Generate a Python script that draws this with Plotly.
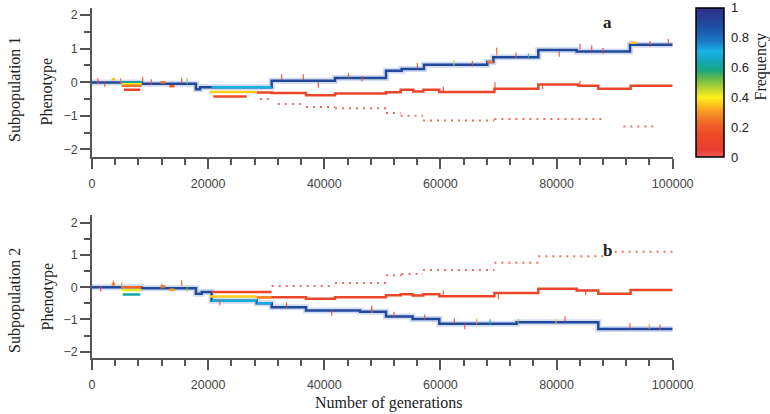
import plotly.graph_objects as go

# ---------------- data ----------------
x_ticks = [0, 20000, 40000, 60000, 80000, 100000]
x_tick_labels = ["0", "20000", "40000", "60000", "80000", "100000"]
y_ticks = [-2, -1, 0, 1, 2]
freq_ticks = [0, 0.2, 0.4, 0.6, 0.8, 1]
freq_tick_labels = ["0", "0.2", "0.4", "0.6", "0.8", "1"]

# Subpopulation 1 -- dominant lineage (step start generation, phenotype)
sub1_main_gen = [0, 8560, 17900, 18600, 30940, 41850, 50630, 53330, 57170, 68070, 69110, 76860, 83460, 92650, 100000]
sub1_main_pheno = [-0.01, -0.05, -0.21, -0.15, 0.04, 0.12, 0.34, 0.39, 0.52, 0.60, 0.74, 0.96, 0.91, 1.11, 1.11]
sub1_main_freq = 0.9
# second (minority) lineage
sub1_second_gen = [28360, 30940, 36850, 41850, 50630, 53150, 55330, 57060, 59810, 69290, 76860, 83750, 87190, 92750, 100000]
sub1_second_pheno = [-0.31, -0.32, -0.39, -0.34, -0.30, -0.23, -0.28, -0.23, -0.29, -0.20, -0.07, -0.11, -0.20, -0.11, -0.11]
sub1_second_freq = 0.12
# rare lineage
sub1_rare_start = [28900, 32000, 36850, 41850, 50630, 53150, 57000, 69290, 91500]
sub1_rare_end = [31200, 36850, 41850, 50630, 53150, 57000, 69290, 88000, 97200]
sub1_rare_pheno = [-0.50, -0.65, -0.74, -0.78, -0.92, -1.00, -1.14, -1.10, -1.32]
sub1_rare_freq = 0.03
# transient branches
sub1_branch_start = [5100, 5100, 5100, 5500, 20600, 20300, 20900, 68070, 11800, 13300, 3400, 92650]
sub1_branch_end = [8560, 8560, 8560, 8300, 30940, 28360, 26640, 69110, 12600, 14200, 4000, 93800]
sub1_branch_pheno = [-0.01, -0.06, -0.11, -0.23, -0.15, -0.29, -0.43, 0.60, 0.00, -0.12, 0.09, 1.17]
sub1_branch_freq = [0.62, 0.40, 0.25, 0.10, 0.70, 0.36, 0.14, 0.25, 0.25, 0.20, 0.35, 0.35]
# short-lived mutants
sub1_mut_gen = [1000, 2200, 4940, 8730, 10200, 15450, 16410, 32660, 36390, 38970, 44150, 46500, 56020, 62340,
                65500, 69690, 69690, 75150, 73000, 80470, 84030, 86050, 88000, 96090, 99250, 69400, 84030, 77600, 60500]
sub1_mut_pheno = [0.03, -0.05, 0.04, 0.07, 0.00, 0.05, 0.03, 0.15, 0.15, -0.08, 0.19, 0.10, 0.49, 0.57,
                  0.55, 0.94, 0.87, 0.77, 0.80, 0.84, 1.06, 1.01, 0.93, 1.14, 1.21, -0.08, -0.04, -0.12, -0.22]
sub1_mut_freq = [0.10, 0.10, 0.25, 0.10, 0.10, 0.10, 0.50, 0.10, 0.10, 0.08, 0.10, 0.08, 0.10, 0.45,
                 0.10, 0.10, 0.30, 0.55, 0.10, 0.10, 0.10, 0.10, 0.10, 0.10, 0.10, 0.10, 0.10, 0.08, 0.08]

# Subpopulation 2
sub2_main_gen = [0, 8500, 17900, 18900, 20600, 28360, 30940, 36850, 46150, 50630, 55220, 59810, 73130, 87190, 100000]
sub2_main_pheno = [0.00, -0.03, -0.20, -0.15, -0.42, -0.50, -0.62, -0.72, -0.76, -0.91, -0.99, -1.13, -1.09, -1.30, -1.30]
sub2_main_freq = 0.9
sub2_second_gen = [28360, 30940, 36850, 41850, 50630, 53150, 55220, 57060, 59810, 69290, 76860, 83460, 87190, 92750, 100000]
sub2_second_pheno = [-0.31, -0.31, -0.36, -0.31, -0.25, -0.22, -0.26, -0.22, -0.28, -0.18, -0.05, -0.10, -0.20, -0.09, -0.09]
sub2_second_freq = 0.12
sub2_rare_start = [30940, 41850, 50630, 53300, 57000, 69290, 76860, 90000]
sub2_rare_end = [41850, 50630, 53300, 57000, 69290, 76860, 88000, 100000]
sub2_rare_pheno = [0.04, 0.13, 0.37, 0.41, 0.53, 0.76, 0.96, 1.10]
sub2_rare_freq = 0.03
sub2_branch_start = [5100, 5100, 5300, 20600, 20600, 20300, 28360, 28360, 11800, 13300, 3400]
sub2_branch_end = [8500, 8500, 8300, 28360, 30940, 28360, 30940, 30940, 12600, 14200, 4000]
sub2_branch_pheno = [0.00, -0.09, -0.23, -0.42, -0.15, -0.29, -0.31, -0.50, 0.02, -0.08, 0.10]
sub2_branch_freq = [0.22, 0.42, 0.62, 0.68, 0.13, 0.36, 0.28, 0.72, 0.25, 0.30, 0.30]
sub2_mut_gen = [3670, 5100, 1500, 12000, 15450, 16400, 22000, 33500, 41280, 48170, 48170, 52000, 57300, 62400,
                64200, 66240, 68540, 73420, 79900, 81450, 92650, 97810, 96000, 60500, 70000, 85000]
sub2_mut_pheno = [0.12, 0.07, -0.05, 0.02, 0.13, -0.05, -0.48, -0.55, -0.80, -0.72, -0.66, -0.85, -0.93, -1.05,
                  -1.22, -1.06, -1.08, -1.07, -1.07, -0.99, -1.20, -1.24, -1.22, -0.18, -0.29, -0.16]
sub2_mut_freq = [0.20, 0.30, 0.10, 0.25, 0.10, 0.50, 0.10, 0.10, 0.10, 0.30, 0.10, 0.10, 0.10, 0.10,
                 0.10, 0.30, 0.65, 0.50, 0.35, 0.10, 0.10, 0.10, 0.30, 0.10, 0.10, 0.10]

# ---------------- colour scale ----------------
FREQ_SCALE = [
    (0.00, (236, 92, 82)),
    (0.05, (232, 62, 50)),
    (0.14, (237, 72, 40)),
    (0.22, (241, 100, 40)),
    (0.30, (246, 148, 35)),
    (0.36, (252, 205, 28)),
    (0.40, (255, 240, 28)),
    (0.46, (185, 212, 50)),
    (0.52, (110, 188, 70)),
    (0.58, (25, 166, 130)),
    (0.65, (18, 168, 190)),
    (0.71, (25, 180, 232)),
    (0.78, (28, 118, 195)),
    (0.86, (28, 84, 165)),
    (0.93, (36, 64, 150)),
    (1.00, (44, 48, 132)),
]
plotly_scale = [[p, "rgb(%d,%d,%d)" % c] for p, c in FREQ_SCALE]


def freq_color(f, alpha=1.0):
    f = max(0.0, min(1.0, f))
    for (p0, c0), (p1, c1) in zip(FREQ_SCALE[:-1], FREQ_SCALE[1:]):
        if p0 <= f <= p1:
            t = 0 if p1 == p0 else (f - p0) / (p1 - p0)
            c = [round(a + (b - a) * t) for a, b in zip(c0, c1)]
            return "rgba(%d,%d,%d,%.2f)" % (c[0], c[1], c[2], alpha)
    return "rgba(44,48,132,%.2f)" % alpha


fig = go.Figure()


def add_panel(xa, ya, main_gen, main_pheno, main_freq, sec_gen, sec_pheno, sec_freq,
              rare_s, rare_e, rare_p, rare_f, br_s, br_e, br_p, br_f, mut_g, mut_p, mut_f):
    # rare lineage (dotted)
    rx, ry = [], []
    for s, e, p in zip(rare_s, rare_e, rare_p):
        rx += [s, e, None]
        ry += [p, p, None]
    fig.add_trace(go.Scatter(x=rx, y=ry, mode="lines", xaxis=xa, yaxis=ya, hoverinfo="skip",
                             line=dict(color=freq_color(rare_f, 0.8), width=2, dash="2px,5px")))
    # minority lineage
    fig.add_trace(go.Scatter(x=sec_gen, y=sec_pheno, mode="lines", xaxis=xa, yaxis=ya, hoverinfo="skip",
                             line=dict(color=freq_color(sec_freq), width=2.5, shape="hv")))
    # dominant lineage: halo + core
    fig.add_trace(go.Scatter(x=main_gen, y=main_pheno, mode="lines", xaxis=xa, yaxis=ya, hoverinfo="skip",
                             line=dict(color="rgba(120,150,215,0.35)", width=6, shape="hv")))
    fig.add_trace(go.Scatter(x=main_gen, y=main_pheno, mode="lines", xaxis=xa, yaxis=ya, hoverinfo="skip",
                             line=dict(color=freq_color(main_freq), width=2.5, shape="hv")))
    # transient branches
    for s, e, p, f in zip(br_s, br_e, br_p, br_f):
        fig.add_trace(go.Scatter(x=[s, e], y=[p, p], mode="lines", xaxis=xa, yaxis=ya, hoverinfo="skip",
                                 line=dict(color=freq_color(f), width=2.5)))
    # short-lived mutants
    fig.add_trace(go.Scatter(x=mut_g, y=mut_p, mode="markers", xaxis=xa, yaxis=ya, hoverinfo="skip",
                             marker=dict(symbol="line-ns", size=4,
                                         line=dict(width=1.2, color=[freq_color(f, 0.85) for f in mut_f]))))


add_panel("x", "y", sub1_main_gen, sub1_main_pheno, sub1_main_freq, sub1_second_gen, sub1_second_pheno,
          sub1_second_freq, sub1_rare_start, sub1_rare_end, sub1_rare_pheno, sub1_rare_freq,
          sub1_branch_start, sub1_branch_end, sub1_branch_pheno, sub1_branch_freq,
          sub1_mut_gen, sub1_mut_pheno, sub1_mut_freq)
add_panel("x2", "y2", sub2_main_gen, sub2_main_pheno, sub2_main_freq, sub2_second_gen, sub2_second_pheno,
          sub2_second_freq, sub2_rare_start, sub2_rare_end, sub2_rare_pheno, sub2_rare_freq,
          sub2_branch_start, sub2_branch_end, sub2_branch_pheno, sub2_branch_freq,
          sub2_mut_gen, sub2_mut_pheno, sub2_mut_freq)

# colour bar geometry (pixels) and carrier trace (point lies outside the axis range)
CB_TOP, CB_BOTTOM, CB_LEFT = 8.0, 157.0, 696.0
fig.add_trace(go.Scatter(
    x=[-50000], y=[0], mode="markers", xaxis="x", yaxis="y", hoverinfo="skip",
    marker=dict(color=[0.5], cmin=0, cmax=1, colorscale=plotly_scale, showscale=True,
                colorbar=dict(x=CB_LEFT / 770, xanchor="left", xpad=0, ypad=0,
                              y=1 - (CB_TOP + CB_BOTTOM) / 2 / 414, yanchor="middle",
                              len=CB_BOTTOM - CB_TOP, lenmode="pixels",
                              thickness=28, thicknessmode="pixels",
                              outlinewidth=1.5, outlinecolor="black",
                              showticklabels=False, ticks=""))))

GREY = "#555555"
tick_font = dict(family="Liberation Sans, Arial, sans-serif", size=12.5, color="#444444")
xdom = [92 / 770, 672.7 / 770]


def xcfg(anchor):
    return dict(domain=xdom, range=[0, 100000], anchor=anchor, tickvals=x_ticks, ticktext=x_tick_labels,
                ticks="outside", ticklen=10, tickwidth=1.5, tickcolor=GREY, showline=True, linecolor=GREY,
                linewidth=1.5, showgrid=False, zeroline=False, tickfont=tick_font, ticklabelstandoff=4,
                minor=dict(tick0=0, dtick=4000, ticks="outside", ticklen=6, tickwidth=1.5, tickcolor=GREY))


def ycfg(anchor, dom, rng):
    return dict(domain=dom, range=rng, anchor=anchor, tickvals=y_ticks, ticks="outside", ticklen=10,
                tickwidth=1.5, tickcolor=GREY, showline=True, linecolor=GREY, linewidth=1.5,
                showgrid=False, zeroline=False, tickfont=tick_font,
                minor=dict(tick0=0, dtick=0.5, ticks="outside", ticklen=6, tickwidth=1.5, tickcolor=GREY))


serif = "Liberation Serif, Times New Roman, serif"
ann = []


def add_text(txt, px, py, size=16, angle=0, bold=False, family=serif, xanchor="center"):
    ann.append(dict(text=("<b>%s</b>" % txt) if bold else txt, x=px / 770, y=1 - py / 414,
                    xref="paper", yref="paper", showarrow=False, textangle=angle,
                    xanchor=xanchor, yanchor="middle",
                    font=dict(family=family, size=size, color="#222222")))


add_text("Subpopulation 1", 15, 90, angle=-90)
add_text("Phenotype", 47, 91.5, angle=-90)
add_text("Subpopulation 2", 15, 301, angle=-90)
add_text("Phenotype", 47, 296.5, angle=-90)
add_text("Number of generations", 389, 403)
add_text("a", 607.7, 22, size=17, bold=True)
add_text("b", 607.7, 250.7, size=17, bold=True)
add_text("Frequency", 760, 66.5, angle=-90)
# colour-bar tick labels
for f, lab in zip(freq_ticks, freq_tick_labels):
    add_text(lab, 729, CB_BOTTOM - f * (CB_BOTTOM - CB_TOP), size=13,
             family="Liberation Sans, Arial, sans-serif", xanchor="left")

fig.update_layout(
    width=770, height=414, margin=dict(l=0, r=0, t=0, b=0, autoexpand=False),
    paper_bgcolor="white", plot_bgcolor="white", showlegend=False,
    xaxis=xcfg("y"),
    yaxis=ycfg("x", [1 - 157 / 414, 1 - 8 / 414], [-2.229, 2.208]),
    xaxis2=xcfg("y2"),
    yaxis2=ycfg("x2", [1 - 358.3 / 414, 1 - 215 / 414], [-2.205, 2.239]),
    annotations=ann,
)

fig.write_html("out.html")
